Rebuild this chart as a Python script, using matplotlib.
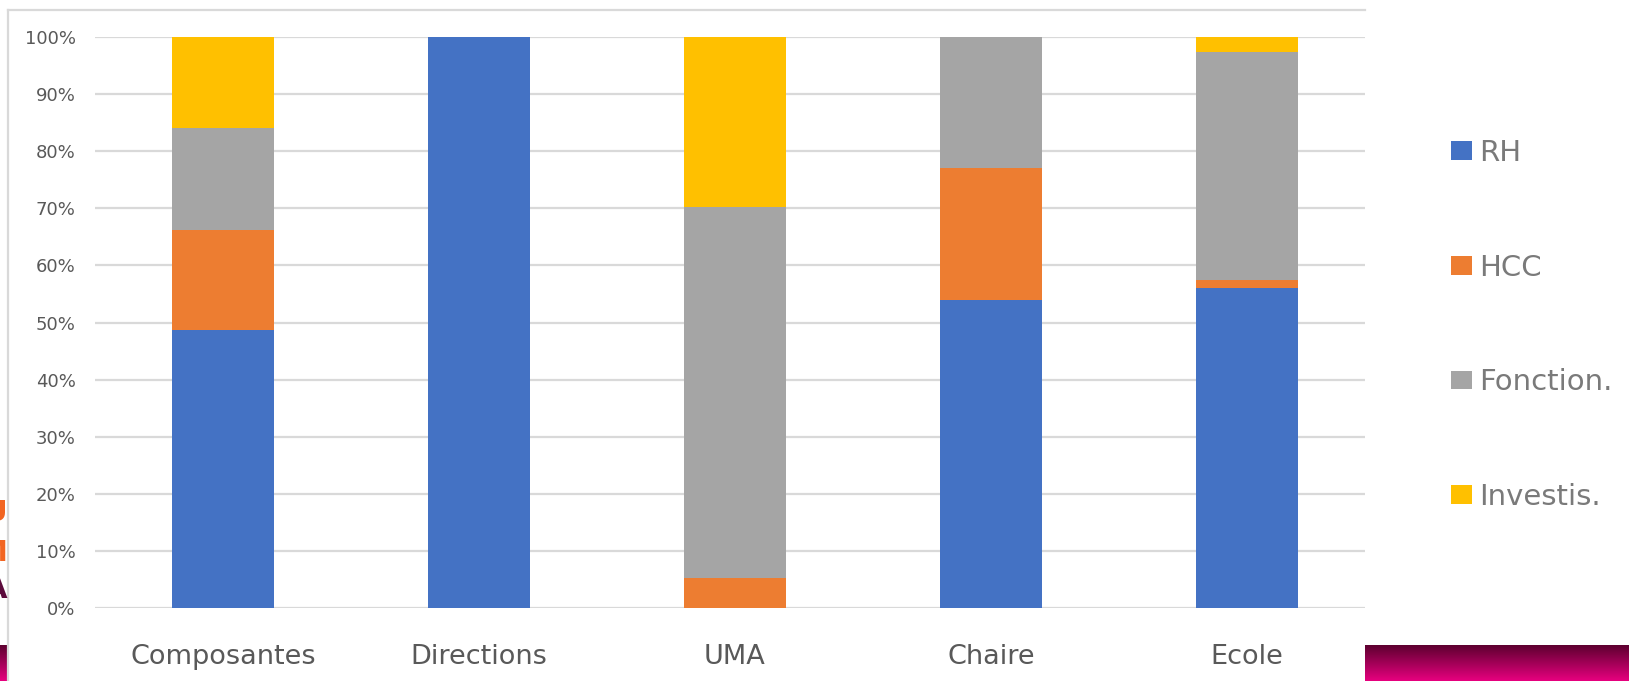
import matplotlib.pyplot as plt
import numpy as np
from matplotlib.lines import Line2D
from matplotlib.colors import LinearSegmentedColormap

# categories and shares (percent)
cats = ['Composantes', 'Directions', 'UMA', 'Chaire', 'Ecole']
rh = [48.7, 100, 0, 54, 56]
hcc = [17.5, 0, 5.3, 23.1, 1.5]
fonction = [17.8, 0, 64.9, 22.9, 39.8]
investis = [16, 0, 29.8, 0, 2.7]
series_names = ['RH', 'HCC', 'Fonction.', 'Investis.']
yticks = np.arange(0, 101, 10)

cols = ['#4472C4', '#ED7D31', '#A5A5A5', '#FFC000']
W, H = 1629, 681

fig = plt.figure(figsize=(W / 100, H / 100), dpi=100)
ax = fig.add_axes([95 / W, 1 - 608 / H, 1270 / W, 571 / H])

x = np.arange(len(cats))
bottom = np.zeros(len(cats))
handles = []
for vals, col in zip([rh, hcc, fonction, investis], cols):
    b = ax.bar(x, vals, 0.4, bottom=bottom, color=col, zorder=2)
    handles.append(b)
    bottom += np.array(vals)

ax.set_xlim(-0.5, -0.5 + 1270 / 256)
ax.set_ylim(0, 100)
ax.set_yticks(yticks)
ax.set_yticklabels(['%d%%' % v for v in yticks])
ax.set_xticks(x)
ax.set_xticklabels(cats)
ax.yaxis.grid(True, color='#D9D9D9', lw=1.6, zorder=0)
ax.set_axisbelow(True)
for s in ax.spines.values():
    s.set_visible(False)
ax.tick_params(axis='y', length=0, pad=14, labelsize=13, labelcolor='#595959')
ax.tick_params(axis='x', length=0, pad=26, labelsize=19.5, labelcolor='#595959')

leg = fig.legend(handles, series_names, loc='center left',
                 bbox_to_anchor=(1451 / W, 1 - 325 / H), frameon=False,
                 fontsize=21, labelcolor='#7a7a7a', handlelength=0.72,
                 handleheight=0.62, handletextpad=0.25, labelspacing=2.97,
                 borderpad=0, borderaxespad=0)

# chart frame (top and left edges)
fig.add_artist(Line2D([8 / W, 1365 / W], [1 - 10 / H, 1 - 10 / H], color='#D9D9D9', lw=1.6))
fig.add_artist(Line2D([8 / W, 8 / W], [0, 1 - 10 / H], color='#D9D9D9', lw=1.6))

# slide background bits peeking out
grad = np.linspace(0, 1, 50).reshape(-1, 1)
cm = LinearSegmentedColormap.from_list('band', ['#5e0030', '#e6007e'])
for rect in ([1365 / W, 0, 264 / W, 36 / H], [0, 0, 7 / W, 36 / H]):
    bx = fig.add_axes(rect)
    bx.imshow(grad, aspect='auto', cmap=cm)
    bx.axis('off')

fig.text(7 / W, 1 - 513 / H, 'U', color='#F26522', fontsize=21, fontweight='bold', ha='right', va='center')
fig.text(7 / W, 1 - 553 / H, 'M', color='#F26522', fontsize=21, fontweight='bold', ha='right', va='center')
fig.text(7 / W, 1 - 590 / H, 'A', color='#5c0b3c', fontsize=21, fontweight='bold', ha='right', va='center')

fig.savefig('out.png', dpi=100)
